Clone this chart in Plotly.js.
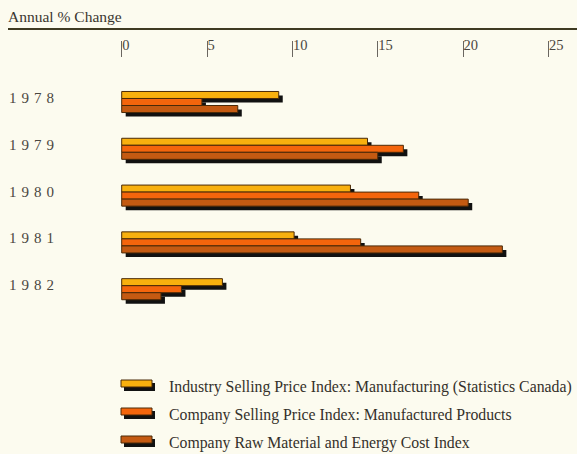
<!DOCTYPE html>
<html>
<head>
<meta charset="utf-8">
<script src="https://cdn.plot.ly/plotly-3.0.1.min.js"></script>
<style>html,body{margin:0;padding:0;background:#fcfbef;}</style>
</head>
<body>
<div id="chart" style="width:577px;height:454px;"></div>
<script>
// ---- data ----
const categories = ['1978', '1979', '1980', '1981', '1982'];
const industrySellingPrice = [9.2, 14.4, 13.4, 10.1, 5.9];
const companySellingPrice = [4.7, 16.5, 17.4, 14.0, 3.5];
const companyCostIndex = [6.8, 15.0, 20.3, 22.3, 2.3];
const seriesNames = [
  'Industry Selling Price Index: Manufacturing (Statistics Canada)',
  'Company Selling Price Index: Manufactured Products',
  'Company Raw Material and Energy Cost Index'
];
const tickValues = [0, 5, 10, 15, 20, 25];
const chartTitle = 'Annual % Change';

// ---- styles ----
const W = 577, H = 454;
const colors = ['#f8b00e', '#f4650c', '#c45a12'];
const serif = '"Liberation Serif", "DejaVu Serif", serif';
const pxPerUnit = 17.07;     // horizontal scale
const pxPerCat = 46.8;       // vertical scale
const zeroPx = 121.7;
const topPx = 41;
const firstCatPx = 102;
const barW = 0.15;
const offsets = [-0.225, -0.075, 0.075];
const shX = 4 / pxPerUnit, shY = 4 / pxPerCat;
const series = [industrySellingPrice, companySellingPrice, companyCostIndex];

const traces = [];
// shadows first
series.forEach((vals, i) => {
  traces.push({
    type: 'bar', orientation: 'h', y: categories, x: vals,
    base: shX, width: barW, offset: offsets[i] + shY,
    marker: {color: '#111', line: {width: 0}},
    hoverinfo: 'skip', showlegend: false
  });
});
series.forEach((vals, i) => {
  traces.push({
    type: 'bar', orientation: 'h', y: categories, x: vals, name: seriesNames[i],
    width: barW, offset: offsets[i],
    marker: {color: colors[i], line: {width: 1, color: '#4a2a08'}},
    hoverinfo: 'x+name', showlegend: false
  });
});

const xmin = -zeroPx / pxPerUnit, xmax = (W - zeroPx) / pxPerUnit;
const yTop = -(firstCatPx - topPx) / pxPerCat;
const yBot = (H - firstCatPx) / pxPerCat;
const plotH = H - topPx;
const py = p => (H - p) / plotH;
const px = p => p / W;

const annotations = categories.map((c, i) => ({
  xref: 'paper', yref: 'y', x: px(7), y: i, xanchor: 'left', yanchor: 'middle',
  yshift: 4, showarrow: false,
  text: c.split('').join('\u2004'),
  font: {family: serif, size: 15, color: '#4a4640'}
}));

const shapes = [{
  type: 'line', xref: 'paper', yref: 'paper', x0: px(8), x1: 1, y0: py(29), y1: py(29),
  line: {color: '#3e3a22', width: 2}
}];

const legendRows = [384, 412, 440];
seriesNames.forEach((n, i) => {
  const r = legendRows[i];
  shapes.push({type: 'rect', xref: 'paper', yref: 'paper',
    x0: px(124), x1: px(155), y0: py(r - 1), y1: py(r + 7),
    fillcolor: '#111', line: {width: 0}});
  shapes.push({type: 'rect', xref: 'paper', yref: 'paper',
    x0: px(121), x1: px(152), y0: py(r - 4), y1: py(r + 3),
    fillcolor: colors[i], line: {width: 1, color: '#4a2a08'}});
  annotations.push({
    xref: 'paper', yref: 'paper', x: px(167), y: py(r + 3), xanchor: 'left', yanchor: 'middle',
    showarrow: false, text: n, font: {family: serif, size: 15.8, color: '#34302a'}
  });
});

const layout = {
  width: W, height: H,
  paper_bgcolor: '#fcfbef', plot_bgcolor: 'rgba(0,0,0,0)',
  margin: {l: 0, r: 0, t: topPx, b: 0, pad: 0},
  barmode: 'overlay',
  showlegend: false,
  title: {
    text: chartTitle, xref: 'container', yref: 'container',
    x: px(8), xanchor: 'left', y: 1 - 17 / H, yanchor: 'middle',
    font: {family: serif, size: 15.5, color: '#3a3630'}
  },
  xaxis: {
    range: [xmin, xmax], side: 'top', tickvals: tickValues,
    ticks: 'inside', ticklen: 16, tickwidth: 1, tickcolor: '#6a6660',
    ticklabelposition: 'inside right', ticklabelstandoff: -7,
    showline: false, showgrid: false, zeroline: false,
    tickfont: {family: serif, size: 14.5, color: '#4a4640'}, fixedrange: true
  },
  yaxis: {
    type: 'category', range: [yBot, yTop], showticklabels: false, ticks: '',
    showline: false, showgrid: false, zeroline: false, fixedrange: true
  },
  annotations: annotations,
  shapes: shapes
};

Plotly.newPlot('chart', traces, layout, {displayModeBar: false, staticPlot: true});
</script>
</body>
</html>
